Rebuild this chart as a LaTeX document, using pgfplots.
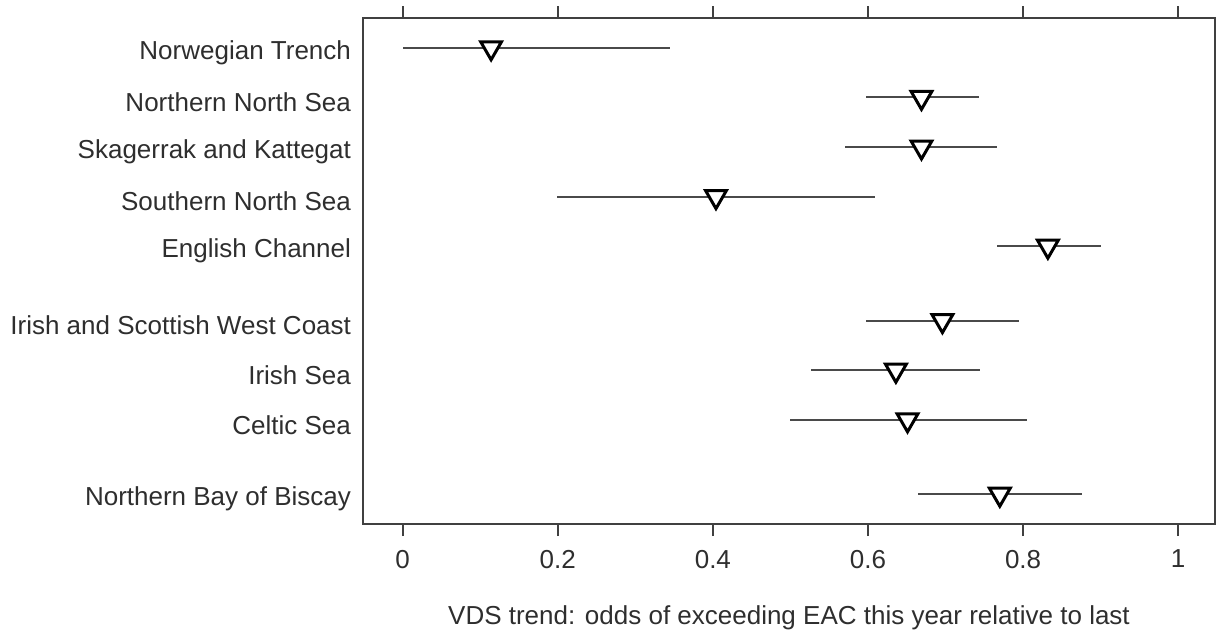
\documentclass[border=0pt]{standalone}
\usepackage{pgfplots}
\pgfplotsset{compat=1.18}
\usepackage{pgfplotstable}
\usepackage{fontspec}
\setmainfont{Liberation Sans}
\definecolor{txt}{HTML}{2E2E2E}
\definecolor{axc}{HTML}{404040}
\definecolor{barc}{HTML}{4A4A4A}
\pgfplotstableread{
y mid lo hi
0   0.114 0.000 0.345
1   0.669 0.597 0.743
2   0.669 0.571 0.766
3   0.404 0.199 0.609
4   0.832 0.767 0.901
5.5 0.696 0.597 0.795
6.5 0.636 0.527 0.745
7.5 0.651 0.499 0.805
9   0.770 0.664 0.876
}\data
\begin{document}
\fontsize{13}{15}\selectfont
\begin{tikzpicture}
\useasboundingbox (-181.5pt,-55pt) rectangle (427pt,262pt);
\begin{axis}[
  at={(0,0)}, anchor=south west,
  scale only axis, width=426pt, height=253pt,
  xmin=-0.0512, xmax=1.0475,
  ymin=-0.6, ymax=9.6, y dir=reverse,
  xtick={0,0.2,0.4,0.6,0.8,1},
  xticklabels={0,0.2,0.4,0.6,0.8,1},
  xtick pos=both, xticklabel pos=lower,
  tick align=outside,
  x tick style={draw=axc, line width=0.9pt},
  major tick length=6pt,
  ytick={0,1,2,3,4,5.5,6.5,7.5,9},
  yticklabels={Norwegian Trench,Northern North Sea,Skagerrak and Kattegat,Southern North Sea,English Channel,Irish and Scottish West Coast,Irish Sea,Celtic Sea,Northern Bay of Biscay},
  y tick style={draw=none},
  yticklabel style={font=\fontsize{13}{15}\selectfont, text=txt, xshift=4.5pt, yshift=-2.5pt},
  xticklabel style={font=\fontsize{13}{15}\selectfont, text=txt, yshift=-2.5pt},
  /pgf/number format/assume math mode=true,
  axis line style={draw=axc, line width=1pt},
  xlabel={VDS trend: odds of exceeding EAC this year relative to last},
  xlabel style={font=\fontsize{13}{15}\selectfont, text=txt, yshift=-9.5pt},
  clip=false,
]
\addplot[only marks, mark=none, draw=barc, line width=0.9pt,
  error bars/.cd, x dir=both, x explicit, error mark=none,
  error bar style={draw=barc, line width=1pt}]
  table[x=mid, y=y,
    x error plus expr=\thisrow{hi}-\thisrow{mid},
    x error minus expr=\thisrow{mid}-\thisrow{lo}] {\data};
\addplot[only marks, mark=triangle*, mark size=6pt,
  mark options={rotate=180, fill=white, draw=black, line width=1.5pt}]
  table[x=mid, y=y] {\data};
\end{axis}
\end{tikzpicture}
\end{document}
